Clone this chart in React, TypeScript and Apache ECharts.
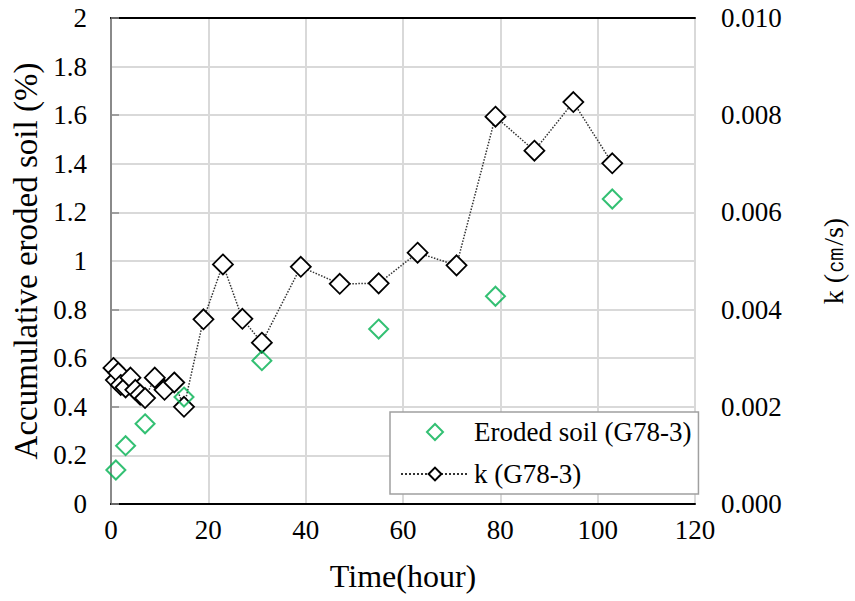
import React, { useEffect, useRef } from "react";
import * as echarts from "echarts";

const erodedTime = [1, 3, 7, 15, 31, 55, 79, 103];
const erodedSoil = [0.14, 0.24, 0.33, 0.44, 0.59, 0.72, 0.855, 1.255];

const kTime = [0.5, 1, 1.5, 2, 3, 4, 5, 6, 7, 9, 11, 13, 15, 19, 23, 27, 31, 39, 47, 55, 63, 71, 79, 87, 95, 103];
const kValue = [
  0.0028, 0.00255, 0.0027, 0.00245, 0.0024, 0.0026, 0.00235, 0.00225, 0.00218, 0.0026, 0.00235, 0.0025, 0.002,
  0.0038, 0.00493, 0.00381, 0.00332, 0.00488, 0.00453, 0.00454, 0.00517, 0.00491, 0.00797, 0.00727, 0.00827, 0.00701,
];

const FONT = "Liberation Serif";

export default function App() {
  const ref = useRef<HTMLDivElement>(null);
  useEffect(() => {
    const chart = echarts.init(ref.current!, undefined, { renderer: "svg" });
    chart.setOption({
      animation: false,
      backgroundColor: "#ffffff",
      textStyle: { fontFamily: FONT },
      grid: { left: 111, right: 149, top: 18, bottom: 97 },
      legend: {
        orient: "vertical",
        left: 390,
        top: 412,
        padding: [5, 7, 5, 10],
        borderColor: "#a0a0a0",
        borderWidth: 1.5,
        itemWidth: 68,
        itemHeight: 16,
        itemGap: 12,
        symbolKeepAspect: true,
        backgroundColor: "#ffffff",
        textStyle: { fontFamily: FONT, fontSize: 27, color: "#000", lineHeight: 30 },
        data: [
          { name: "Eroded soil (G78-3)", icon: "path://M0,8L8,0L16,8L8,16Z" },
          { name: "k (G78-3)" },
        ],
      },
      xAxis: [
        {
          type: "value",
          min: 0,
          max: 120,
          interval: 20,
          name: "Time(hour)",
          nameLocation: "middle",
          nameGap: 56,
          nameTextStyle: { fontFamily: FONT, fontSize: 32, color: "#000" },
          axisLine: { show: true, lineStyle: { color: "#000", width: 2 } },
          axisTick: { show: false },
          axisLabel: { fontFamily: FONT, fontSize: 27, color: "#000", margin: 12 },
          splitLine: { show: true, lineStyle: { color: "#d9d9d9", width: 2 } },
        },
        {
          type: "value",
          position: "top",
          min: 0,
          max: 120,
          interval: 20,
          axisLine: { show: true, onZero: false, lineStyle: { color: "#000", width: 2 } },
          axisTick: { show: false },
          axisLabel: { show: false },
          splitLine: { show: false },
        },
      ],
      yAxis: [
        {
          type: "value",
          min: 0,
          max: 2,
          interval: 0.2,
          name: "Accumulative eroded soil (%)",
          nameLocation: "middle",
          nameGap: 63,
          nameTextStyle: { fontFamily: FONT, fontSize: 33, color: "#000" },
          axisLine: { show: true, lineStyle: { color: "#000", width: 2 } },
          axisTick: { show: false },
          axisLabel: { fontFamily: FONT, fontSize: 27, color: "#000", margin: 24 },
          splitLine: { show: true, lineStyle: { color: "#d9d9d9", width: 2 } },
        },
        {
          type: "value",
          min: 0,
          max: 0.01,
          interval: 0.002,
          position: "right",
          name: "k (㎝/s)",
          nameLocation: "middle",
          nameGap: 124,
          nameRotate: 90,
          nameTextStyle: { fontFamily: FONT, fontSize: 28, color: "#000" },
          axisLine: { show: true, lineStyle: { color: "#8a8a8a", width: 2 } },
          axisTick: { show: true, inside: false, length: 8, lineStyle: { color: "#8a8a8a", width: 1.5 } },
          axisLabel: {
            fontFamily: FONT,
            fontSize: 27,
            color: "#000",
            margin: 26,
            formatter: (v: number) => v.toFixed(3),
          },
          splitLine: { show: false },
        },
      ],
      series: [
        {
          name: "k (G78-3)",
          type: "line",
          yAxisIndex: 1,
          data: kTime.map((t, i) => [t, kValue[i]]),
          symbol: "diamond",
          symbolSize: 20,
          showAllSymbol: true,
          lineStyle: { color: "#333", width: 1.5, type: "dotted" },
          itemStyle: { color: "#ffffff", borderColor: "#000", borderWidth: 1.8 },
          z: 2,
        },
        {
          name: "Eroded soil (G78-3)",
          type: "scatter",
          data: erodedTime.map((t, i) => [t, erodedSoil[i]]),
          symbol: "diamond",
          symbolSize: 19,
          itemStyle: { color: "rgba(255,255,255,0)", borderColor: "#00b050", borderWidth: 2 },
          z: 3,
        },
      ],
    });
    return () => chart.dispose();
  }, []);
  return <div ref={ref} style={{ position: "fixed", left: 0, top: 0, width: 855, height: 601 }} />;
}
